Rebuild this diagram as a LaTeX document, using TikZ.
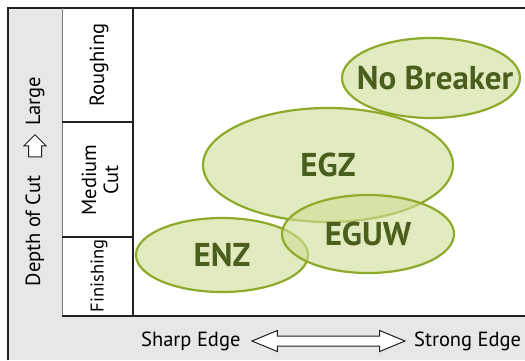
\documentclass[tikz,border=0pt]{standalone}
\usepackage{fontspec}
\setmainfont{PT Sans}
\usetikzlibrary{shapes.geometric,shapes.arrows}
\definecolor{panelgray}{RGB}{230,231,232}
\definecolor{zonefill}{RGB}{207,223,150}
\definecolor{zoneline}{RGB}{141,170,43}
\definecolor{zonetext}{RGB}{74,94,30}
\definecolor{frameline}{RGB}{35,31,32}

\begin{document}
\begin{tikzpicture}[x=1pt, y=-1pt,
  zone/.style={ellipse, draw=zoneline, line width=2.2pt, fill=zonefill, fill opacity=0.6, inner sep=0pt},
  zonelabel/.style={text=zonetext, inner sep=0pt, font=\bfseries\fontsize{33}{33}\selectfont},
  axislabel/.style={font=\fontsize{20.5}{21}\selectfont, inner sep=0pt},
  rowlabel/.style={font=\fontsize{20.5}{22}\selectfont, rotate=90, align=center, inner sep=0pt}]

\useasboundingbox (0,0) rectangle (525,360);
\fill[panelgray] (8,8) rectangle (525,360);
\fill[white] (62,8) rectangle (525,316);
\draw[frameline, line width=1.8pt] (8,360) -- (8,8) -- (525,8);
\draw[frameline!60, line width=1pt] (62,8) -- (62,316);
\draw[frameline, line width=2.2pt] (133,8) -- (133,316);
\draw[frameline, line width=2.2pt] (62,316) -- (525,316);
\draw[frameline, line width=1.6pt] (62,122) -- (133,122) (62,237) -- (133,237);

\node[rowlabel] (roughing) at (99,65) {Roughing};
\node[rowlabel] (medium) at (100,180) {Medium\\Cut};
\node[rowlabel, font=\fontsize{18.5}{20}\selectfont] (finishing) at (99,276) {Finishing};

\node[axislabel, rotate=90] (large) at (35,101) {Large};
\node[single arrow, draw=frameline, fill=white, rotate=90, minimum height=22pt, inner xsep=0pt, inner ysep=6pt, single arrow head extend=4.5pt, line width=1pt] (deptharrow) at (35,149) {};
\node[axislabel, rotate=90] (depth) at (35,231) {Depth of Cut};

\node[axislabel, anchor=west] (sharp) at (141,341) {Sharp Edge};
\node[double arrow, draw=frameline, fill=white, minimum height=153pt, inner xsep=0pt, inner ysep=4.5pt, double arrow head extend=5.5pt, double arrow tip angle=45, line width=1pt] (edgearrow) at (328.5,341) {};
\node[axislabel, anchor=west] (strong) at (414,341) {Strong Edge};

\node[zone, minimum width=172pt, minimum height=74pt] (enz) at (222,255) {};
\node[zone, minimum width=250pt, minimum height=114pt] (egz) at (328,165) {};
\node[zone, minimum width=172pt, minimum height=78pt] (eguw) at (368,234) {};
\node[zone, minimum width=178pt, minimum height=80pt] (nobreaker) at (431,78) {};

\node[zonelabel] (enzlabel) at (enz.center) {ENZ};
\node[zonelabel] (egzlabel) at (egz.center) {EGZ};
\node[zonelabel] (eguwlabel) at (eguw.center) {EGUW};
\node[zonelabel] (nobreakerlabel) at (435,78) {No Breaker};
\end{tikzpicture}
\end{document}
